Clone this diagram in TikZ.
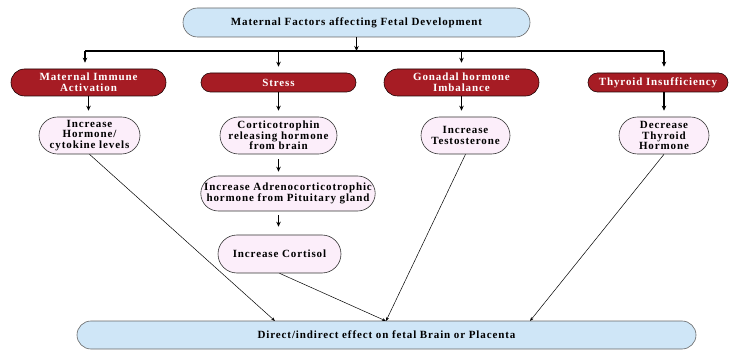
\documentclass[tikz,border=0pt]{standalone}
\usepackage{fontspec}
\setmainfont{Liberation Serif}
\newfontfamily\diagfont[LetterSpace=8]{Liberation Serif Bold}
\usetikzlibrary{arrows.meta,shapes.misc}
\definecolor{topblue}{HTML}{CFE6F7}
\definecolor{darkred}{HTML}{A61C24}
\definecolor{pinkfill}{HTML}{FCEEFA}
\tikzset{
  lbl/.style={font=\diagfont\fontsize{11}{10.6}\selectfont, align=center, inner sep=0pt, rounded rectangle},
  bluebox/.style={lbl, draw=black!60, fill=topblue, line width=0.6pt},
  redbox/.style={lbl, draw=black!80!darkred, fill=darkred, text=white, line width=0.6pt},
  pinkbox/.style={lbl, draw=black!80, fill=pinkfill, line width=0.6pt},
  flow/.style={-{Stealth[length=5pt,width=4.5pt]}, line width=1.1pt},
  link/.style={-{Stealth[length=4pt,width=3pt]}, line width=0.5pt},
}
\begin{document}
\begin{tikzpicture}[x=1pt,y=-1pt]
\useasboundingbox (0,0) rectangle (732,350);
% top
\node[bluebox, minimum width=347pt, minimum height=29pt] (top) at (356.5,22.5) {Maternal Factors affecting Fetal Development};
% red
\node[redbox, minimum width=155pt, minimum height=27pt] (mia) at (88.5,82.5) {Maternal Immune\\Activation};
\node[redbox, minimum width=155pt, minimum height=19pt] (str) at (278.5,82.5) {Stress};
\node[redbox, minimum width=155pt, minimum height=27pt] (gon) at (461.5,82.5) {Gonadal hormone\\Imbalance};
\node[redbox, minimum width=140pt, minimum height=19pt] (thy) at (658,82.5) {Thyroid Insufficiency};
% pink
\node[pinkbox, minimum width=101pt, minimum height=37pt] (hor) at (89.5,135.5) {Increase\\Hormone/\\cytokine levels};
\node[pinkbox, minimum width=117pt, minimum height=37pt] (crh) at (278.5,135.5) {Corticotrophin\\releasing hormone\\from brain};
\node[pinkbox, minimum width=173pt, minimum height=35pt] (acth) at (288,193.5) {Increase Adrenocorticotrophic\\hormone from Pituitary gland};
\node[pinkbox, minimum width=123pt, minimum height=38pt] (cort) at (279.5,254) {Increase Cortisol};
\node[pinkbox, minimum width=89pt, minimum height=37pt] (tes) at (465.5,135.5) {Increase\\Testosterone};
\node[pinkbox, minimum width=90pt, minimum height=37pt] (dth) at (664,135.5) {Decrease\\Thyroid\\Hormone};
% bottom
\node[bluebox, minimum width=619pt, minimum height=28pt] (bot) at (386.5,335) {Direct/indirect effect on fetal Brain or Placenta};
% bus
\coordinate (bl) at (85,51);
\coordinate (br) at (664,51);
\draw[line width=1.4pt] (bl) -- (br);
\draw[flow] (top.south) -- (top.south |- bl);
\draw[flow, shorten >=6pt] (bl) -- (bl |- mia.north);
\draw[flow, shorten >=6pt] (str.north |- bl) -- (str.north);
\draw[flow, shorten >=6pt] (gon.north |- bl) -- (gon.north);
\draw[flow, shorten >=6pt] (br) -- (br |- thy.north);
% vertical chains
\draw[flow, shorten >=6pt] (mia.south) -- (mia.south |- hor.north);
\draw[flow, shorten >=6pt] (str.south) -- (crh.north);
\draw[flow, shorten >=6pt] (gon.south) -- (gon.south |- tes.north);
\draw[flow, shorten >=6pt] (thy.south -| dth.north) -- (dth.north);
\draw[flow, shorten >=4pt, shorten <=5pt] (crh.south) -- (crh.south |- acth.north);
\draw[flow, shorten >=8pt, shorten <=4pt] (crh.south |- acth.south) -- (crh.south |- cort.north);
% links to bottom
\coordinate (b1) at (275,321);
\coordinate (b2) at (386,321);
\coordinate (b3) at (530,321);
\draw[link] (hor.south) -- (b1);
\draw[link] (cort.south) -- (b2);
\draw[link] (tes.south) -- (b2);
\draw[link] (dth.south) -- (b3);
\end{tikzpicture}
\end{document}
